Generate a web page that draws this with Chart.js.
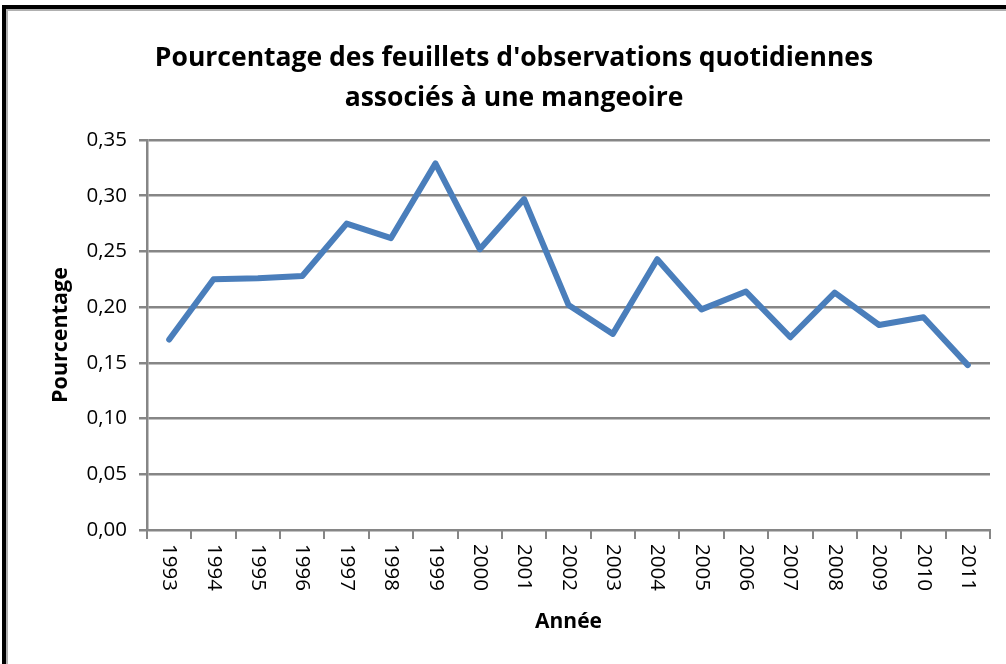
<!DOCTYPE html>
<html>
<head>
<meta charset="utf-8">
<script src="https://cdn.jsdelivr.net/npm/chart.js@4.4.0/dist/chart.umd.min.js"></script>
<style>
  html, body { margin: 0; padding: 0; background: #fff; overflow: hidden; }
  #wrap { position: relative; width: 1006px; height: 664px; }
</style>
</head>
<body>
<div id="wrap"><canvas id="c" width="1006" height="664"></canvas></div>
<script>
const years = ['1993','1994','1995','1996','1997','1998','1999','2000','2001','2002','2003','2004','2005','2006','2007','2008','2009','2010','2011'];
const pourcentage = [0.171,0.225,0.226,0.228,0.275,0.262,0.329,0.252,0.297,0.202,0.176,0.243,0.198,0.214,0.173,0.213,0.184,0.191,0.148];
const titleLines = ["Pourcentage des feuillets d'observations quotidiennes", "associés à une mangeoire"];
const yTitle = 'Pourcentage';
const xTitle = 'Année';

const FONT = "'Open Sans', sans-serif";
const GRID = '#868686';

const framePlugin = {
  id: 'frame',
  beforeDraw(chart) {
    const ctx = chart.ctx;
    ctx.save();
    ctx.fillStyle = '#fff';
    ctx.fillRect(0, 0, chart.width, chart.height);
    ctx.strokeStyle = '#b0b0b0';
    ctx.lineWidth = 2;
    ctx.strokeRect(7, 10, 1100, 800);
    ctx.strokeStyle = '#000';
    ctx.lineWidth = 4;
    ctx.strokeRect(4, 7, 1100, 800);
    ctx.restore();
  }
};

const xLabelPlugin = {
  id: 'xLabels',
  afterDraw(chart) {
    const scale = chart.scales.x;
    const ctx = chart.ctx;
    ctx.save();
    ctx.fillStyle = '#000';
    ctx.font = '20.5px ' + FONT;
    ctx.textAlign = 'left';
    ctx.textBaseline = 'middle';
    years.forEach((lab, i) => {
      const x = scale.getPixelForValue(i);
      ctx.save();
      ctx.translate(x, chart.chartArea.bottom + 14);
      ctx.rotate(Math.PI / 2);
      ctx.fillText(lab, 0, 0);
      ctx.restore();
    });
    ctx.restore();
  }
};

new Chart(document.getElementById('c'), {
  type: 'line',
  data: {
    labels: years,
    datasets: [{
      data: pourcentage,
      borderColor: '#4A7EBB',
      borderWidth: 6,
      pointRadius: 0,
      pointHoverRadius: 0,
      tension: 0,
      borderJoinStyle: 'round',
      borderCapStyle: 'round',
      fill: false
    }]
  },
  options: {
    responsive: false,
    animation: false,
    events: [],
    layout: { padding: { left: 38, right: 16, top: 0, bottom: 20 } },
    plugins: {
      legend: { display: false },
      tooltip: { enabled: false },
      title: {
        display: true,
        text: titleLines,
        color: '#000',
        font: { family: FONT, size: 26.5, weight: 'bold', lineHeight: 1.51 },
        padding: { top: 38, bottom: 22 }
      }
    },
    scales: {
      x: {
        type: 'category',
        offset: true,
        afterFit(s) { s.height = 114; },
        grid: { display: true, offset: true, drawOnChartArea: false, drawTicks: true, tickLength: 9, tickColor: GRID, lineWidth: 2 },
        border: { display: true, color: GRID, width: 2 },
        ticks: { color: 'rgba(0,0,0,0)', font: { family: FONT, size: 20 }, minRotation: 90, maxRotation: 90, autoSkip: false },
        title: { display: true, text: xTitle, color: '#000', font: { family: FONT, size: 21, weight: 'bold' }, padding: { top: 0, bottom: 9 } }
      },
      y: {
        min: 0,
        max: 0.35,
        afterFit(s) { s.width = 109; },
        ticks: {
          stepSize: 0.05,
          color: '#000',
          font: { family: FONT, size: 20.5 },
          padding: 12,
          callback: (v) => v.toFixed(2).replace('.', ',')
        },
        grid: { color: GRID, lineWidth: 2.5, tickLength: 8, tickColor: GRID },
        border: { display: true, color: GRID, width: 2.5 },
        title: { display: true, text: yTitle, color: '#000', font: { family: FONT, size: 21.5, weight: 'bold' }, padding: { top: 10, bottom: 0 } }
      }
    }
  },
  plugins: [framePlugin, xLabelPlugin]
});
</script>
</body>
</html>
